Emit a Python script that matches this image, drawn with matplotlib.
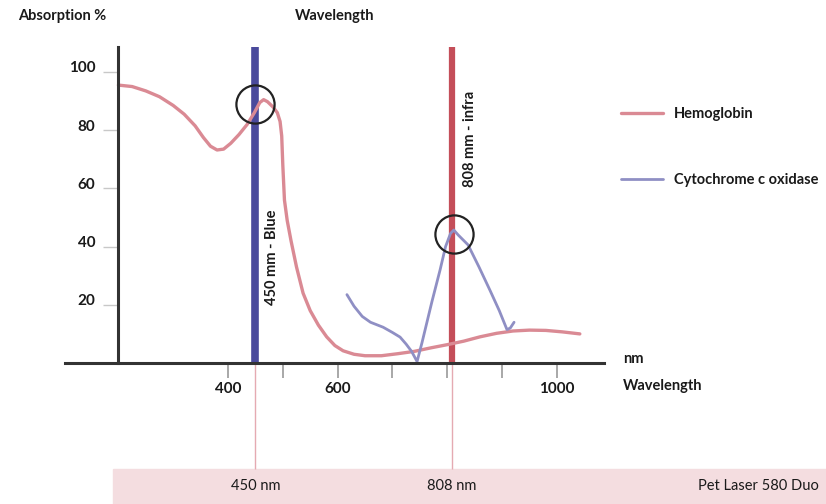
import matplotlib
matplotlib.use("Agg")
import matplotlib.pyplot as plt
from matplotlib.transforms import ScaledTranslation
from matplotlib.patches import Rectangle

# ---------------- data ----------------
hemo_nm = [200, 225, 250, 275, 300, 320, 340, 355, 368, 380, 392, 405, 420, 435,
           448, 458, 465, 472, 482, 490, 495, 498, 500, 503, 508, 515, 525, 537,
           550, 565, 580, 595, 610, 630, 650, 680, 710, 740, 770, 800, 830, 860,
           890, 920, 950, 980, 1010, 1042]
hemo_val = [95.5, 95, 93.5, 91.5, 88.5, 85.5, 81.5, 77.5, 74.5, 73.2, 73.5, 75.5,
            78.5, 82, 86, 89.5, 90.5, 89.8, 88, 86, 83, 78, 68, 56, 49, 42, 33, 24,
            18, 13, 9, 6, 4.2, 3, 2.5, 2.5, 3.2, 4, 5.2, 6.3, 7.5, 9, 10.2, 11, 11.3,
            11.2, 10.7, 10]

cyto_nm = [617, 630, 645, 660, 683, 700, 714, 725, 735, 745, 754, 763, 772, 787,
           797, 806, 812, 820, 838, 858, 878, 895, 909, 915, 922]
cyto_val = [23.5, 19.5, 16, 14, 12.3, 10.5, 8.9, 6.5, 4, 0.5, 7, 14, 21, 32, 40,
            44.5, 45.7, 44, 40.6, 33, 25, 18, 11.5, 12, 14]

laser_nm = [450, 808]
laser_band_labels = ["450 nm", "808 nm"]
laser_bar_labels = ["450 mm - Blue", "808 mm - infra"]
peak_nm = [449, 812]
peak_val = [89, 44.4]

yticks = [20, 40, 60, 80, 100]
xticks = [400, 500, 600, 700, 800, 900, 1000]
xticklabels = ["400", "", "600", "", "", "", "1000"]

# ---------------- style ----------------
FONT = "Lato"
FS = 10.5
W, H = 826, 504
fig = plt.figure(figsize=(W / 100, H / 100), dpi=100)
ax = fig.add_axes([0, 0, 1, 1])
ax.set_xlim(-16.06, 1491.2)
ax.set_ylim(-48.45, 124.74)
ax.patch.set_alpha(0)

def px(x, y):
    return x / W, 1 - y / H

# bottom band
ax.add_patch(Rectangle(px(113, 504), (W - 113) / W, 35 / H,
                       transform=fig.transFigure, color="#f4dde0", zorder=0))

# thin lines from axis to band
ax.vlines(laser_nm, -36.5, 0, colors="#e5aab2", lw=1.0, zorder=1)

# laser bars
ax.vlines(laser_nm[0], 0, 108.6, colors="#4a4a9c", lw=5.5, zorder=2)
ax.vlines(laser_nm[1], 0, 108.6, colors="#c44e59", lw=4.5, zorder=2)

# curves
ax.plot(hemo_nm, hemo_val, color="#da8a94", lw=2.4, zorder=3,
        solid_joinstyle="round", solid_capstyle="round", label="Hemoglobin")
ax.plot(cyto_nm, cyto_val, color="#8f8fc4", lw=2.0, zorder=3,
        solid_joinstyle="round", solid_capstyle="round", label="Cytochrome c oxidase")

# circles
ax.plot(peak_nm, peak_val, "o", ms=27.5, mfc="none", mec="#222222", mew=1.6, zorder=4)

# axes
for s in ["top", "right"]:
    ax.spines[s].set_visible(False)
ax.spines["left"].set_position(("data", 200))
ax.spines["left"].set_bounds(0, 108.6)
ax.spines["bottom"].set_position(("data", 0))
ax.spines["bottom"].set_bounds(102, 1087)
for s in ["left", "bottom"]:
    ax.spines[s].set_color("#333333")
    ax.spines[s].set_linewidth(2.2)
    ax.spines[s].set_zorder(5)

ax.set_yticks(yticks)
ax.set_yticklabels([str(v) for v in yticks])
ax.set_xticks(xticks)
ax.set_xticklabels(xticklabels)
ax.tick_params(axis="y", direction="out", length=10.5, width=1.0, color="#c8c8c8",
               pad=6, labelsize=11, labelcolor="#1a1a1a")
ax.tick_params(axis="x", direction="out", length=11, width=1.2, color="#9a9a9a",
               pad=3, labelsize=11, labelcolor="#1a1a1a")
for lab in ax.get_yticklabels() + ax.get_xticklabels():
    lab.set_fontfamily(FONT)
    lab.set_fontweight("bold")
for lab in ax.get_yticklabels():
    lab.set_transform(lab.get_transform() + ScaledTranslation(0, 0.05, fig.dpi_scale_trans))

tk = dict(family=FONT, weight="bold", fontsize=FS, color="#1a1a1a")

# bar labels (rotated)
ax.text(480, 36.4, laser_bar_labels[0], rotation=90, ha="center", va="center",
        bbox=dict(facecolor="white", edgecolor="none", pad=1.5), zorder=6, **tk)
ax.text(841.6, 77, laser_bar_labels[1], rotation=90, ha="center", va="center",
        zorder=6, **tk)

# band labels
for nm, lab in zip(laser_nm, laser_band_labels):
    ax.text(nm, -42.3, lab, ha="center", va="center", zorder=6,
            family=FONT, weight="normal", fontsize=FS, color="#1a1a1a")
ax.text(*px(819, 486), "Pet Laser 580 Duo", ha="right", va="center",
        transform=fig.transFigure, zorder=6,
        family=FONT, weight="normal", fontsize=FS, color="#1a1a1a")

# titles
fig.text(*px(18, 16), "Absorption %", ha="left", va="center", **tk)
fig.text(*px(295, 16), "Wavelength", ha="left", va="center", **tk)
fig.text(*px(623, 359), "nm", ha="left", va="center", **tk)
fig.text(*px(623, 386), "Wavelength", ha="left", va="center", **tk)

# legend
leg = ax.legend(loc="upper left", bbox_to_anchor=px(621, 107), bbox_transform=fig.transFigure,
                frameon=False, handlelength=2.9, handletextpad=0.7, labelspacing=3.55,
                borderpad=0, borderaxespad=0,
                prop=dict(family=FONT, weight="bold", size=FS))
for t in leg.get_texts():
    t.set_color("#1a1a1a")

fig.savefig("out.png", dpi=100)
